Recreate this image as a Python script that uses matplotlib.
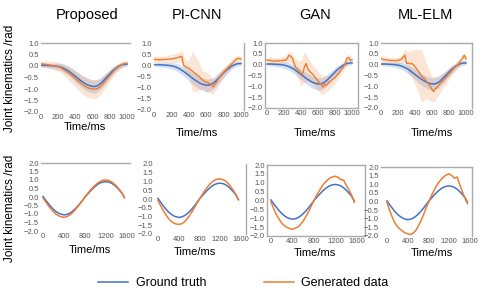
import numpy as np
import matplotlib
matplotlib.use("Agg")
import matplotlib.pyplot as plt
from matplotlib.lines import Line2D

plt.rcParams['font.family'] = ['Liberation Sans', 'DejaVu Sans']

BLUE = '#4472c4'
ORANGE = '#ed7d31'
SPINE = '#aaaaaa'

methods = ["Proposed", "PI-CNN", "GAN", "ML-ELM"]

# ---- top row: 0..1000 ms, step 20 ms (bands at step 40 ms)
t_top = np.arange(0, 1001, 20)
truth_top = [0.03, 0.03, 0.03, 0.03, 0.02, 0.02, 0.01, 0.01, 0.0, -0.01,
             -0.02, -0.04, -0.06, -0.09, -0.13, -0.17, -0.22, -0.27, -0.33, -0.39,
             -0.45, -0.51, -0.57, -0.63, -0.68, -0.73, -0.78, -0.82, -0.85, -0.87,
             -0.89, -0.89, -0.88, -0.85, -0.80, -0.74, -0.66, -0.58, -0.50, -0.42,
             -0.34, -0.26, -0.19, -0.13, -0.07, -0.02, 0.02, 0.05, 0.07, 0.08, 0.08]
gen_top = {
    "Proposed": [0.10, 0.09, 0.08, 0.07, 0.05, 0.04, 0.03, 0.02, 0.0, -0.02,
                 -0.03, -0.06, -0.10, -0.15, -0.20, -0.25, -0.30, -0.36, -0.42, -0.48,
                 -0.55, -0.62, -0.68, -0.74, -0.80, -0.85, -0.90, -0.94, -0.97, -0.99,
                 -1.0, -1.01, -1.0, -0.97, -0.93, -0.86, -0.78, -0.69, -0.60, -0.51,
                 -0.42, -0.33, -0.25, -0.17, -0.10, -0.04, 0.02, 0.06, 0.10, 0.12, 0.12],
    "PI-CNN": [0.28, 0.25, 0.27, 0.24, 0.26, 0.25, 0.27, 0.26, 0.28, 0.27,
               0.30, 0.29, 0.32, 0.33, 0.36, 0.38, 0.40, 0.0, -0.05, -0.10,
               -0.12, -0.20, -0.25, -0.32, -0.38, -0.45, -0.50, -0.60, -0.65, -0.72,
               -0.75, -0.78, -0.82, -0.85, -0.97, -0.85, -0.75, -0.62, -0.50, -0.40,
               -0.32, -0.22, -0.15, -0.05, 0.02, 0.10, 0.18, 0.25, 0.32, 0.30, 0.28],
    "GAN": [0.21, 0.19, 0.20, 0.17, 0.18, 0.16, 0.18, 0.17, 0.19, 0.18,
            0.22, 0.20, 0.30, 0.44, 0.38, 0.30, 0.05, -0.14, -0.20, -0.30,
            -0.40, -0.43, -0.10, 0.05, -0.20, -0.30, -0.38, -0.45, -0.55, -0.65,
            -0.75, -0.85, -0.93, -1.04, -0.90, -0.95, -0.85, -0.78, -0.72, -0.65,
            -0.60, -0.50, -0.42, -0.32, -0.20, -0.10, 0.05, 0.30, 0.33, 0.20, 0.22],
    "ML-ELM": [0.28, 0.25, 0.22, 0.24, 0.20, 0.21, 0.18, 0.20, 0.17, 0.20,
               0.19, 0.22, 0.25, 0.35, 0.44, 0.06, 0.08, 0.04, 0.06, 0.0,
               -0.10, -0.20, -0.30, -0.42, -0.55, -0.60, -0.68, -0.80, -0.90, -1.0,
               -1.15, -1.24, -1.10, -1.05, -0.93, -0.85, -0.78, -0.70, -0.60, -0.52,
               -0.42, -0.35, -0.25, -0.15, -0.08, -0.02, 0.10, 0.20, 0.30, 0.44, 0.28],
}
truth_band = [0.08, 0.08, 0.10, 0.10, 0.12, 0.14, 0.16, 0.18, 0.20, 0.22, 0.24, 0.26, 0.27,
              0.28, 0.28, 0.28, 0.27, 0.26, 0.25, 0.22, 0.20, 0.17, 0.14, 0.12, 0.10, 0.08]
gen_band = {
    "Proposed": [0.12, 0.12, 0.14, 0.16, 0.18, 0.20, 0.22, 0.26, 0.30, 0.33, 0.36, 0.38, 0.40,
                 0.42, 0.42, 0.42, 0.40, 0.36, 0.32, 0.28, 0.24, 0.20, 0.16, 0.14, 0.12, 0.10],
    "PI-CNN": [0.15, 0.15, 0.15, 0.15, 0.16, 0.18, 0.20, 0.22, 0.25, 0.30, 0.35, 0.90, 0.80,
               0.60, 0.40, 0.45, 0.40, 0.32, 0.28, 0.25, 0.22, 0.20, 0.18, 0.16, 0.15, 0.15],
    "GAN": [0.15, 0.15, 0.15, 0.15, 0.15, 0.16, 0.20, 0.25, 0.30, 0.40, 0.60, 0.70, 0.55,
            0.45, 0.42, 0.45, 0.45, 0.40, 0.35, 0.30, 0.25, 0.22, 0.20, 0.18, 0.16, 0.15],
    "ML-ELM": [0.15, 0.15, 0.15, 0.15, 0.15, 0.16, 0.18, 0.30, 0.50, 0.60, 0.80, 1.00, 1.20,
               0.90, 0.70, 0.60, 0.55, 0.45, 0.35, 0.30, 0.25, 0.22, 0.20, 0.18, 0.16, 0.15],
}

# ---- bottom row: 0..1550 ms, step 50 ms
t_bot = np.arange(0, 1551, 50)
truth_bot = [0.03, -0.18, -0.38, -0.57, -0.73, -0.86, -0.96, -1.02, -1.05, -1.03, -0.97,
             -0.87, -0.74, -0.58, -0.40, -0.20, 0.0, 0.17, 0.34, 0.50, 0.64, 0.76,
             0.84, 0.89, 0.90, 0.88, 0.82, 0.72, 0.58, 0.42, 0.24, -0.02]
gen_bot = {
    "Proposed": [-0.05, -0.28, -0.50, -0.70, -0.87, -1.01, -1.11, -1.17, -1.19, -1.16, -1.08,
                 -0.96, -0.80, -0.62, -0.42, -0.21, 0.0, 0.20, 0.39, 0.56, 0.71, 0.84,
                 0.93, 0.99, 1.0, 0.97, 0.90, 0.79, 0.64, 0.46, 0.26, -0.05],
    "PI-CNN": [-0.10, -0.38, -0.65, -0.90, -1.10, -1.26, -1.37, -1.43, -1.45, -1.42, -1.33,
               -1.18, -0.98, -0.75, -0.50, -0.25, 0.0, 0.24, 0.47, 0.67, 0.85, 0.99,
               1.09, 1.14, 1.15, 1.11, 1.03, 0.90, 0.72, 0.50, 0.25, -0.05],
    "GAN": [-0.08, -0.45, -0.80, -1.05, -1.28, -1.42, -1.52, -1.58, -1.62, -1.56, -1.50,
            -1.35, -1.15, -0.90, -0.62, -0.30, 0.0, 0.30, 0.55, 0.80, 1.00, 1.15,
            1.28, 1.33, 1.37, 1.30, 1.18, 1.15, 0.85, 0.60, 0.30, -0.10],
    "ML-ELM": [-0.05, -0.50, -0.90, -1.22, -1.45, -1.60, -1.72, -1.82, -1.87, -1.92, -1.85,
               -1.70, -1.45, -1.15, -0.80, -0.40, -0.05, 0.30, 0.60, 0.90, 1.12, 1.30,
               1.45, 1.55, 1.60, 1.50, 1.35, 1.42, 1.00, 0.60, 0.20, -0.12],
}

W, H = 484, 308
fig = plt.figure(figsize=(W / 100, H / 100), dpi=100)


def panel(left, right, top, bottom, x0, pxper, spines):
    # place axes by pixel box; xlim chosen so that value 0 lands at pixel x0
    ax = fig.add_axes([left / W, 1 - bottom / H, (right - left) / W, (bottom - top) / H])
    ax.set_xlim((left - x0) / pxper, (right - x0) / pxper)
    for s in ['top', 'bottom', 'left', 'right']:
        ax.spines[s].set_visible(s in spines)
        ax.spines[s].set_color(SPINE)
        ax.spines[s].set_linewidth(1.0)
    ax.tick_params(length=0, pad=1.5, labelsize=5.5, colors='#555555')
    ax.patch.set_alpha(0)
    return ax


top_layout = [
    (41, 130, 43, 112, 41, 86 / 1000, ['top']),
    (154, 244, 43, 110, 154, 87 / 1000, ['right']),
    (265, 358, 43, 108, 267, 85 / 1000, ['top', 'bottom', 'left', 'right']),
    (381, 472, 43, 108, 381, 85 / 1000, ['top', 'right']),
]
bot_layout = [
    (41, 130, 163, 231, 43, 84 / 1600, ['top']),
    (155, 246, 164, 234, 158, 83 / 1600, ['right']),
    (267, 365, 165, 236, 271, 86 / 1600, ['top', 'bottom', 'left', 'right']),
    (381, 472, 167, 236, 387, 83 / 1600, ['top', 'right']),
]
title_pos = [(87, 15), (197, 15), (315, 15), (425, 15)]
xlab_top = [(85, 127), (197, 133), (315, 133), (432, 133)]
xlab_bot = [(90, 250), (195, 252), (315, 253), (432, 253)]

t_band = t_top[::2]
truth_top_a = np.array(truth_top)
for i, m in enumerate(methods):
    ax = panel(*top_layout[i])
    g = np.array(gen_top[m])
    ax.fill_between(t_band, truth_top_a[::2] - truth_band, truth_top_a[::2] + truth_band,
                    color=BLUE, alpha=0.22, lw=0)
    ax.fill_between(t_band, g[::2] - np.array(gen_band[m]), g[::2] + np.array(gen_band[m]),
                    color=ORANGE, alpha=0.2, lw=0)
    ax.plot(t_top, truth_top_a, color=BLUE, lw=1.1)
    ax.plot(t_top, g, color=ORANGE, lw=1.0)
    ax.set_ylim(-2.0, 1.0)
    ax.set_yticks(np.arange(-2.0, 1.01, 0.5))
    ax.set_xticks(np.arange(0, 1001, 200))
    fig.text(title_pos[i][0] / W, 1 - title_pos[i][1] / H, m, fontsize=10.5,
             ha='center', va='center')
    fig.text(xlab_top[i][0] / W, 1 - xlab_top[i][1] / H, "Time/ms", fontsize=8,
             ha='center', va='center')

for i, m in enumerate(methods):
    ax = panel(*bot_layout[i])
    ax.plot(t_bot, truth_bot, color=BLUE, lw=1.1)
    ax.plot(t_bot, gen_bot[m], color=ORANGE, lw=1.1)
    ax.set_ylim(-2.0, 2.0)
    ax.set_yticks(np.arange(-2.0, 2.01, 0.5))
    ax.set_xticks(np.arange(0, 1601, 400))
    fig.text(xlab_bot[i][0] / W, 1 - xlab_bot[i][1] / H, "Time/ms", fontsize=8,
             ha='center', va='center')

fig.text(10 / W, 1 - 78 / H, "Joint kinematics /rad", rotation=90, fontsize=8.5,
         ha='center', va='center')
fig.text(10 / W, 1 - 208 / H, "Joint kinematics /rad", rotation=90, fontsize=8.5,
         ha='center', va='center')

handles = [Line2D([0], [0], color=BLUE, lw=1.1, label="Ground truth"),
           Line2D([0], [0], color=ORANGE, lw=1.1, label="Generated data")]
fig.legend(handles=handles, loc='center left', bbox_to_anchor=(87 / W, 1 - 283 / H),
           ncol=2, frameon=False, fontsize=9, handlelength=2.4, handletextpad=0.6,
           columnspacing=4.6)

fig.savefig("out.png", dpi=100)
